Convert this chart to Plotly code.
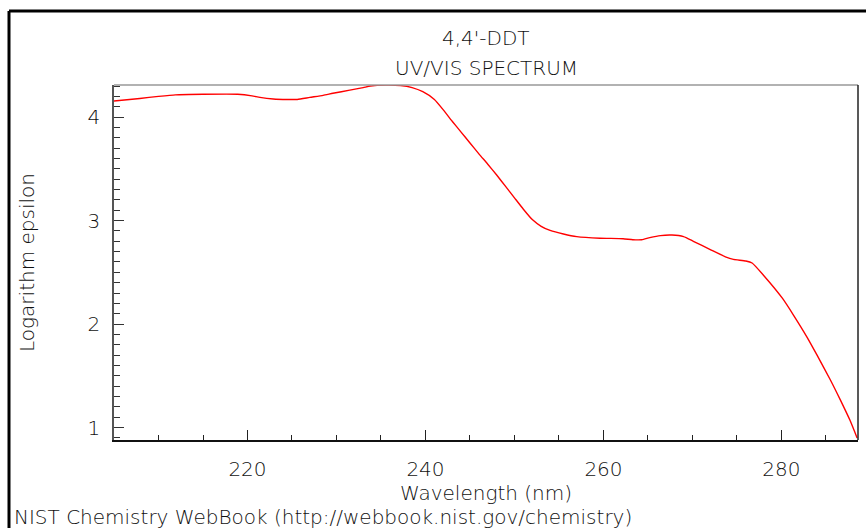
import plotly.graph_objects as go

# Data (wavelength nm, log epsilon)
wavelength = [205.0, 207.9, 210.0, 211.9, 215.0, 218.9, 220.5, 221.4, 222.9, 224.5, 225.6, 227.0,
              228.5, 229.6, 231.5, 233.0, 233.8, 235.5, 237.2, 238.5, 239.7, 241.0, 242.0, 243.0,
              244.0, 245.0, 246.0, 247.0, 248.0, 249.0, 250.0, 251.0, 252.0, 253.0, 254.0, 255.5,
              257.0, 259.6, 262.2, 263.3, 264.3, 265.2, 266.4, 267.7, 269.0, 270.1, 272.0, 273.7,
              274.6, 276.0, 276.7, 278.0, 280.1, 281.4, 282.9, 284.0, 285.5, 286.6, 287.7, 288.5]
log_epsilon = [4.155, 4.18, 4.20, 4.215, 4.22, 4.22, 4.205, 4.19, 4.175, 4.17, 4.17, 4.19,
               4.21, 4.23, 4.26, 4.285, 4.30, 4.31, 4.305, 4.285, 4.245, 4.17, 4.07, 3.96,
               3.855, 3.75, 3.645, 3.545, 3.44, 3.33, 3.22, 3.11, 3.01, 2.945, 2.905, 2.87,
               2.845, 2.83, 2.825, 2.815, 2.815, 2.835, 2.855, 2.86, 2.845, 2.80, 2.72, 2.65,
               2.625, 2.61, 2.59, 2.47, 2.25, 2.08, 1.87, 1.70, 1.46, 1.27, 1.07, 0.90]

chart_title = "4,4'-DDT"
chart_subtitle = "UV/VIS SPECTRUM"
x_title = "Wavelength (nm)"
y_title = "Logarithm epsilon"
footer = "NIST Chemistry WebBook (http://webbook.nist.gov/chemistry)"

FONT = dict(family="DejaVu Sans", size=20, color="#111111", weight=200)

fig = go.Figure()
fig.add_trace(go.Scatter(x=wavelength, y=log_epsilon, mode="lines",
                         line=dict(color="#ff0000", width=1.4, shape="spline", smoothing=0.5),
                         showlegend=False))

L, R, T, B = 114, 8, 85, 88
W, H = 866, 528
pw, ph = W - L - R, H - T - B

def px(xp):
    return (xp - L) / pw

def py(yp):
    return (H - B - yp) / ph

fig.update_layout(
    width=W, height=H,
    margin=dict(l=L, r=R, t=T, b=B, pad=0),
    paper_bgcolor="white", plot_bgcolor="white",
    font=FONT,
    xaxis=dict(range=[205, 288.6], showgrid=False, zeroline=False,
               showline=True, linecolor="#111111", linewidth=1.5,
               ticks="inside", ticklen=10, tickcolor="#222222", tickwidth=1,
               tick0=200, dtick=20, ticklabelstandoff=10,
               minor=dict(ticks="inside", ticklen=5, dtick=5, tick0=200, tickcolor="#222222"),
               title=dict(text=x_title, standoff=6, font=FONT)),
    yaxis=dict(range=[0.88, 4.31], showgrid=False, zeroline=False,
               showline=True, linecolor="#555555", linewidth=1.5,
               ticks="inside", ticklen=10, tickcolor="#333333", tickwidth=1,
               tick0=0, dtick=1, ticklabelstandoff=8,
               minor=dict(ticks="inside", ticklen=6, dtick=0.1, tick0=0, tickcolor="#333333"),
               title=dict(text=y_title, standoff=48, font=FONT)),
    shapes=[
        dict(type="line", xref="paper", yref="paper", x0=0, x1=1, y0=1, y1=1,
             line=dict(color="#999999", width=1.5)),
        dict(type="line", xref="paper", yref="paper", x0=1, x1=1, y0=0, y1=1,
             line=dict(color="#222222", width=1.5)),
        dict(type="line", xref="paper", yref="paper", x0=px(9), x1=px(9), y0=py(11), y1=py(540),
             line=dict(color="black", width=3)),
        dict(type="line", xref="paper", yref="paper", x0=px(9), x1=px(880), y0=py(11), y1=py(11),
             line=dict(color="black", width=3)),
    ],
    annotations=[
        dict(text=chart_title, xref="paper", yref="paper", x=0.5, y=py(38), showarrow=False,
             xanchor="center", yanchor="middle", font=FONT),
        dict(text=chart_subtitle, xref="paper", yref="paper", x=0.5, y=py(68), showarrow=False,
             xanchor="center", yanchor="middle", font=FONT),
        dict(text=footer, xref="paper", yref="paper", x=px(12), y=py(517), showarrow=False,
             xanchor="left", yanchor="middle", font=FONT),
    ],
)

fig.write_html("out.html")
